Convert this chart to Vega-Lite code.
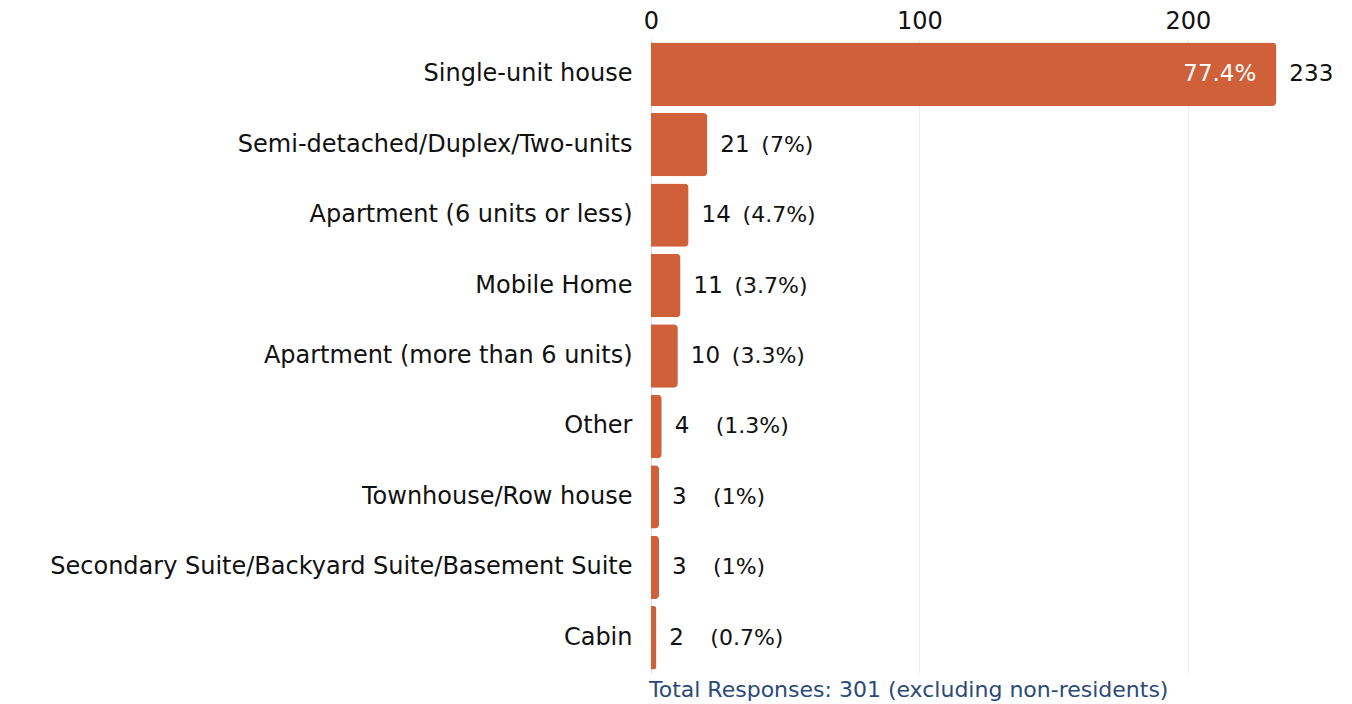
{
  "$schema": "https://vega.github.io/schema/vega-lite/v6.json",
  "autosize": {"type": "none"},
  "padding": {"left": 651, "top": 39, "right": 30, "bottom": 31},
  "width": 671,
  "height": 634,
  "background": "white",
  "config": {
    "view": {"stroke": null},
    "font": "DejaVu Sans",
    "text": {"font": "DejaVu Sans"}
  },
  "title": {
    "text": "Total Responses: 301 (excluding non-residents)",
    "orient": "bottom",
    "anchor": "start",
    "frame": "group",
    "color": "#2A4A7A",
    "fontSize": 22,
    "fontWeight": "normal",
    "font": "DejaVu Sans",
    "offset": 7,
    "dx": -2
  },
  "data": {
    "values": [
      {"type": "Single-unit house", "count": 233, "pct": "77.4%"},
      {"type": "Semi-detached/Duplex/Two-units", "count": 21, "pct": "(7%)"},
      {"type": "Apartment (6 units or less)", "count": 14, "pct": "(4.7%)"},
      {"type": "Mobile Home", "count": 11, "pct": "(3.7%)"},
      {"type": "Apartment (more than 6 units)", "count": 10, "pct": "(3.3%)"},
      {"type": "Other", "count": 4, "pct": "(1.3%)"},
      {"type": "Townhouse/Row house", "count": 3, "pct": "(1%)"},
      {"type": "Secondary Suite/Backyard Suite/Basement Suite", "count": 3, "pct": "(1%)"},
      {"type": "Cabin", "count": 2, "pct": "(0.7%)"}
    ]
  },
  "encoding": {
    "y": {
      "field": "type",
      "type": "nominal",
      "sort": null,
      "scale": {"paddingInner": 0.1, "paddingOuter": 0.05},
      "axis": {
        "title": null,
        "domain": true,
        "domainColor": "#dddddd",
        "ticks": false,
        "labelFontSize": 24,
        "labelColor": "#111111",
        "labelPadding": 19,
        "labelLimit": 700,
        "grid": false
      }
    }
  },
  "layer": [
    {
      "mark": {"type": "bar", "color": "#D0603A", "cornerRadiusEnd": 4},
      "encoding": {
        "x": {
          "field": "count",
          "type": "quantitative",
          "scale": {"domain": [0, 250], "nice": false},
          "axis": {
            "orient": "top",
            "title": null,
            "values": [0, 100, 200],
            "domain": false,
            "ticks": false,
            "labelFontSize": 24,
            "labelColor": "#111111",
            "labelPadding": 6,
            "grid": true,
            "gridColor": "#eeeeee",
            "labelFlush": false
          }
        }
      }
    },
    {
      "mark": {"type": "text", "align": "left", "baseline": "middle", "dx": 13, "fontSize": 23, "color": "#111111"},
      "encoding": {
        "x": {"field": "count", "type": "quantitative"},
        "text": {"field": "count", "type": "quantitative"}
      }
    },
    {
      "transform": [{"filter": "datum.count <= 100"}],
      "mark": {"type": "text", "align": "left", "baseline": "middle", "dx": 54, "fontSize": 22, "color": "#111111"},
      "encoding": {
        "x": {"field": "count", "type": "quantitative"},
        "text": {"field": "pct", "type": "nominal"}
      }
    },
    {
      "transform": [{"filter": "datum.count > 100"}],
      "mark": {"type": "text", "align": "right", "baseline": "middle", "dx": -20, "fontSize": 23, "color": "white"},
      "encoding": {
        "x": {"field": "count", "type": "quantitative"},
        "text": {"field": "pct", "type": "nominal"}
      }
    }
  ]
}
